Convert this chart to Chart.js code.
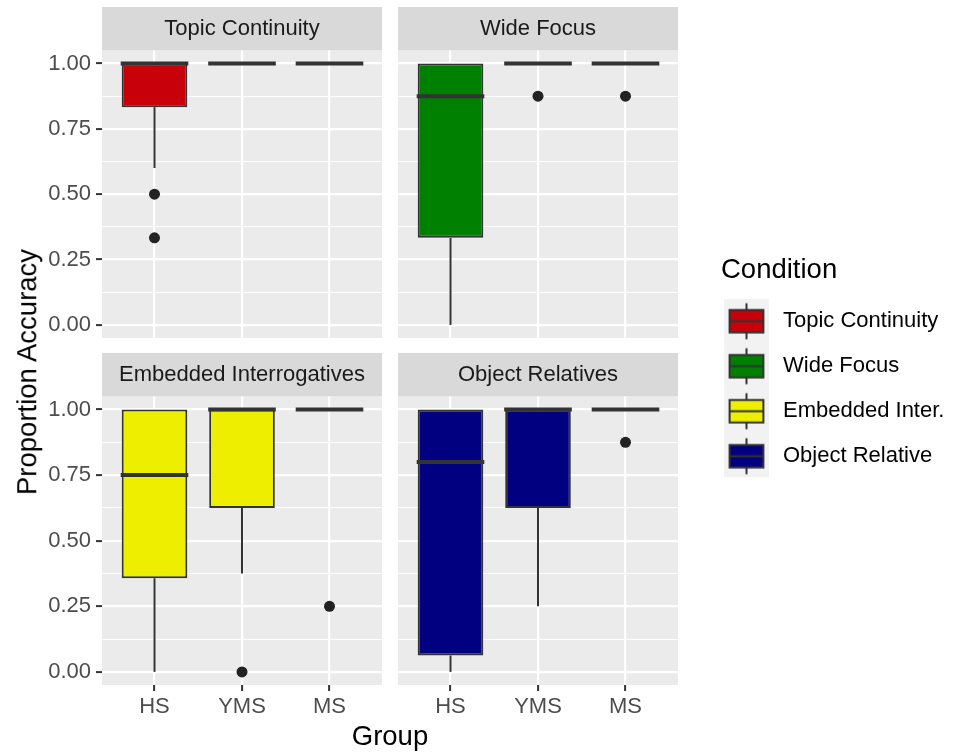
<!DOCTYPE html>
<html>
<head>
<meta charset="utf-8">
<title>Proportion Accuracy by Group and Condition</title>
<script src="https://cdn.jsdelivr.net/npm/chart.js@4.4.1/dist/chart.umd.min.js"></script>
<style>
  html, body { margin: 0; padding: 0; background: #fff; width: 957px; height: 756px; overflow: hidden; }
  canvas { position: absolute; }
  .axis-title {
    position: absolute;
    font-family: "Liberation Sans", Arial, Helvetica, sans-serif;
    font-size: 27.5px;
    line-height: 1;
    color: #000;
    white-space: nowrap;
  }
  #ytitle { left: 27px; top: 372px; transform: translate(-50%, -50%) rotate(-90deg); }
  #xtitle { left: 390px; top: 735.5px; transform: translate(-50%, -50%); }
</style>
</head>
<body>
<canvas id="p0" width="382" height="351" style="left:0;top:7px"></canvas>
<canvas id="p1" width="280" height="351" style="left:398px;top:7px"></canvas>
<canvas id="p2" width="382" height="372" style="left:0;top:353px"></canvas>
<canvas id="p3" width="280" height="372" style="left:398px;top:353px"></canvas>
<canvas id="legend" width="236" height="499" style="left:721px;top:256.5px"></canvas>
<div class="axis-title" id="ytitle">Proportion Accuracy</div>
<div class="axis-title" id="xtitle">Group</div>

<script>
// Groups on the x axis and the four conditions (one facet each)
const groups = ['HS', 'YMS', 'MS'];
const panelTitles = ['Topic Continuity', 'Wide Focus', 'Embedded Interrogatives', 'Object Relatives'];
const legendLabels = ['Topic Continuity', 'Wide Focus', 'Embedded Inter.', 'Object Relative'];
const yTicks = [0, 0.25, 0.5, 0.75, 1];
const yMinorTicks = [0.125, 0.375, 0.625, 0.875];

// Box summaries per group (HS, YMS, MS): [lower whisker, Q1, median, Q3, upper whisker]
const topicContinuityStats = [[0.6, 0.833, 1, 1, 1], [1, 1, 1, 1, 1], [1, 1, 1, 1, 1]];
const topicContinuityOutliers = [[0.5, 0.333], [], []];
const wideFocusStats = [[0, 0.333, 0.875, 1, 1], [1, 1, 1, 1, 1], [1, 1, 1, 1, 1]];
const wideFocusOutliers = [[], [0.875], [0.875]];
const embeddedStats = [[0, 0.357, 0.75, 1, 1], [0.375, 0.625, 1, 1, 1], [1, 1, 1, 1, 1]];
const embeddedOutliers = [[], [0], [0.25]];
const objectRelStats = [[0, 0.0625, 0.8, 1, 1], [0.25, 0.625, 1, 1, 1], [1, 1, 1, 1, 1]];
const objectRelOutliers = [[], [], [0.875]];

const fillColours = ['#c8000a', '#008000', '#eeee00', '#000080'];
const lineColour = '#333333';

Chart.defaults.font.family = '"Liberation Sans", Arial, Helvetica, sans-serif';

// Panel background, facet strip behind the title, whiskers and medians
const facetPlugin = {
  id: 'facet',
  beforeDraw(chart) {
    const { ctx, chartArea: a } = chart;
    ctx.save();
    ctx.fillStyle = '#ebebeb';
    ctx.fillRect(a.left, a.top, a.right - a.left, a.bottom - a.top);
    const t = chart.titleBlock;
    if (t) {
      ctx.fillStyle = '#d9d9d9';
      ctx.fillRect(t.left, t.top, t.width, t.height);
    }
    ctx.restore();
  },
  afterDatasetsDraw(chart, args, opts) {
    const stats = opts.stats;
    if (!stats) return;
    const ctx = chart.ctx;
    const y = chart.scales.y;
    const bars = chart.getDatasetMeta(0).data;
    ctx.save();
    ctx.strokeStyle = lineColour;
    stats.forEach((s, i) => {
      const bar = bars[i];
      const [lo, q1, med, q3, hi] = s;
      ctx.lineWidth = 2;
      ctx.lineCap = 'butt';
      ctx.beginPath();
      if (lo < q1) { ctx.moveTo(bar.x, y.getPixelForValue(q1)); ctx.lineTo(bar.x, y.getPixelForValue(lo)); }
      if (hi > q3) { ctx.moveTo(bar.x, y.getPixelForValue(q3)); ctx.lineTo(bar.x, y.getPixelForValue(hi)); }
      ctx.stroke();
      const half = bar.width / 2 + 1;
      const my = y.getPixelForValue(med);
      ctx.lineWidth = 4;
      ctx.beginPath();
      ctx.moveTo(bar.x - half, my);
      ctx.lineTo(bar.x + half, my);
      ctx.stroke();
    });
    ctx.restore();
  }
};

function makePanel(id, title, stats, outliers, colour, showX, showY) {
  const isMajor = (v) => yTicks.includes(v);
  const points = [];
  outliers.forEach((vals, i) => vals.forEach(v => points.push({ x: i + 1, y: v })));
  return new Chart(document.getElementById(id), {
    type: 'bar',
    data: {
      datasets: [
        {
          type: 'bar',
          data: stats.map((s, i) => ({ x: i + 1, y: [s[1], s[3]] })),
          backgroundColor: colour,
          borderColor: lineColour,
          borderWidth: 2,
          borderSkipped: false,
          barPercentage: 0.75,
          categoryPercentage: 1
        },
        {
          type: 'scatter',
          data: points,
          pointRadius: 5.5,
          pointBackgroundColor: '#222222',
          pointBorderWidth: 0
        }
      ]
    },
    options: {
      responsive: false,
      devicePixelRatio: 1,
      animation: false,
      events: [],
      layout: { autoPadding: false, padding: { left: 0, right: 0, top: 0, bottom: showX ? 0 : 20 } },
      scales: {
        x: {
          type: 'linear', min: 0.4, max: 3.6, offset: false, bounds: 'data',
          afterBuildTicks: (s) => { s.ticks = groups.map((g, i) => ({ value: i + 1 })); },
          ticks: {
            display: showX, autoSkip: false, maxRotation: 0, padding: 3,
            color: '#4d4d4d', font: { size: 22 },
            callback: (v) => groups[Math.round(v) - 1]
          },
          grid: {
            color: '#ffffff', lineWidth: 2.2, offset: false,
            drawTicks: showX, tickLength: 6, tickColor: lineColour, tickWidth: 2
          },
          border: { display: false },
          afterFit: (s) => { s.height = showX ? 40 : 0; }
        },
        y: {
          type: 'linear', min: -0.05, max: 1.05, bounds: 'data',
          afterBuildTicks: (s) => {
            s.ticks = [...yTicks, ...yMinorTicks].sort((a, b) => a - b).map(v => ({ value: v }));
          },
          ticks: {
            display: showY, autoSkip: false, padding: 5,
            color: '#4d4d4d', font: { size: 22 },
            callback: (v) => isMajor(v) ? v.toFixed(2) : ''
          },
          grid: {
            color: '#ffffff',
            lineWidth: (c) => (c.tick && !isMajor(c.tick.value)) ? 1.1 : 2.2,
            drawTicks: showY, tickLength: 6, tickWidth: 2,
            tickColor: (c) => (c.tick && isMajor(c.tick.value)) ? lineColour : 'rgba(0,0,0,0)'
          },
          border: { display: false },
          afterFit: (s) => { s.width = showY ? 102 : 0; }
        }
      },
      plugins: {
        legend: { display: false },
        tooltip: { enabled: false },
        title: {
          display: true, text: title, fullSize: false, color: '#1a1a1a',
          font: { size: 22, weight: 'normal', lineHeight: 1.2 },
          padding: { top: 8.5, bottom: 8.5 }
        },
        facet: { stats }
      }
    },
    plugins: [facetPlugin]
  });
}

makePanel('p0', panelTitles[0], topicContinuityStats, topicContinuityOutliers, fillColours[0], false, true);
makePanel('p1', panelTitles[1], wideFocusStats, wideFocusOutliers, fillColours[1], false, false);
makePanel('p2', panelTitles[2], embeddedStats, embeddedOutliers, fillColours[2], true, true);
makePanel('p3', panelTitles[3], objectRelStats, objectRelOutliers, fillColours[3], true, false);

// Legend key: a small boxplot glyph on a light grey key background
function makeKeyGlyph(fill) {
  const c = document.createElement('canvas');
  c.width = 68; c.height = 45;
  const g = c.getContext('2d');
  g.fillStyle = '#f2f2f2';
  g.fillRect(0, 0, 45, 45);
  g.strokeStyle = lineColour;
  g.lineWidth = 2;
  g.beginPath();
  g.moveTo(22.5, 4.5); g.lineTo(22.5, 11.25);
  g.moveTo(22.5, 33.75); g.lineTo(22.5, 40.5);
  g.stroke();
  g.fillStyle = fill;
  g.fillRect(5.6, 11.25, 33.8, 22.5);
  g.strokeRect(5.6, 11.25, 33.8, 22.5);
  g.beginPath();
  g.moveTo(5.6, 22.5); g.lineTo(39.4, 22.5);
  g.stroke();
  return c;
}
const keyGlyphs = fillColours.map(makeKeyGlyph);

new Chart(document.getElementById('legend'), {
  type: 'bar',
  data: { labels: [], datasets: [] },
  options: {
    responsive: false,
    devicePixelRatio: 1,
    animation: false,
    events: [],
    layout: { autoPadding: false, padding: 0 },
    scales: { x: { display: false }, y: { display: false } },
    plugins: {
      tooltip: { enabled: false },
      legend: {
        display: true, position: 'top', align: 'start',
        title: {
          display: true, text: 'Condition', color: '#000', position: 'start',
          font: { size: 27.5, lineHeight: 1.1 }, padding: 0
        },
        labels: {
          usePointStyle: true, pointStyleWidth: 28, padding: 23,
          color: '#000', font: { size: 22 },
          generateLabels: () => legendLabels.map((text, i) => ({
            text, pointStyle: keyGlyphs[i], fillStyle: fillColours[i],
            strokeStyle: lineColour, lineWidth: 0, hidden: false,
            fontColor: '#000', datasetIndex: i
          }))
        }
      }
    }
  }
});
</script>
</body>
</html>
